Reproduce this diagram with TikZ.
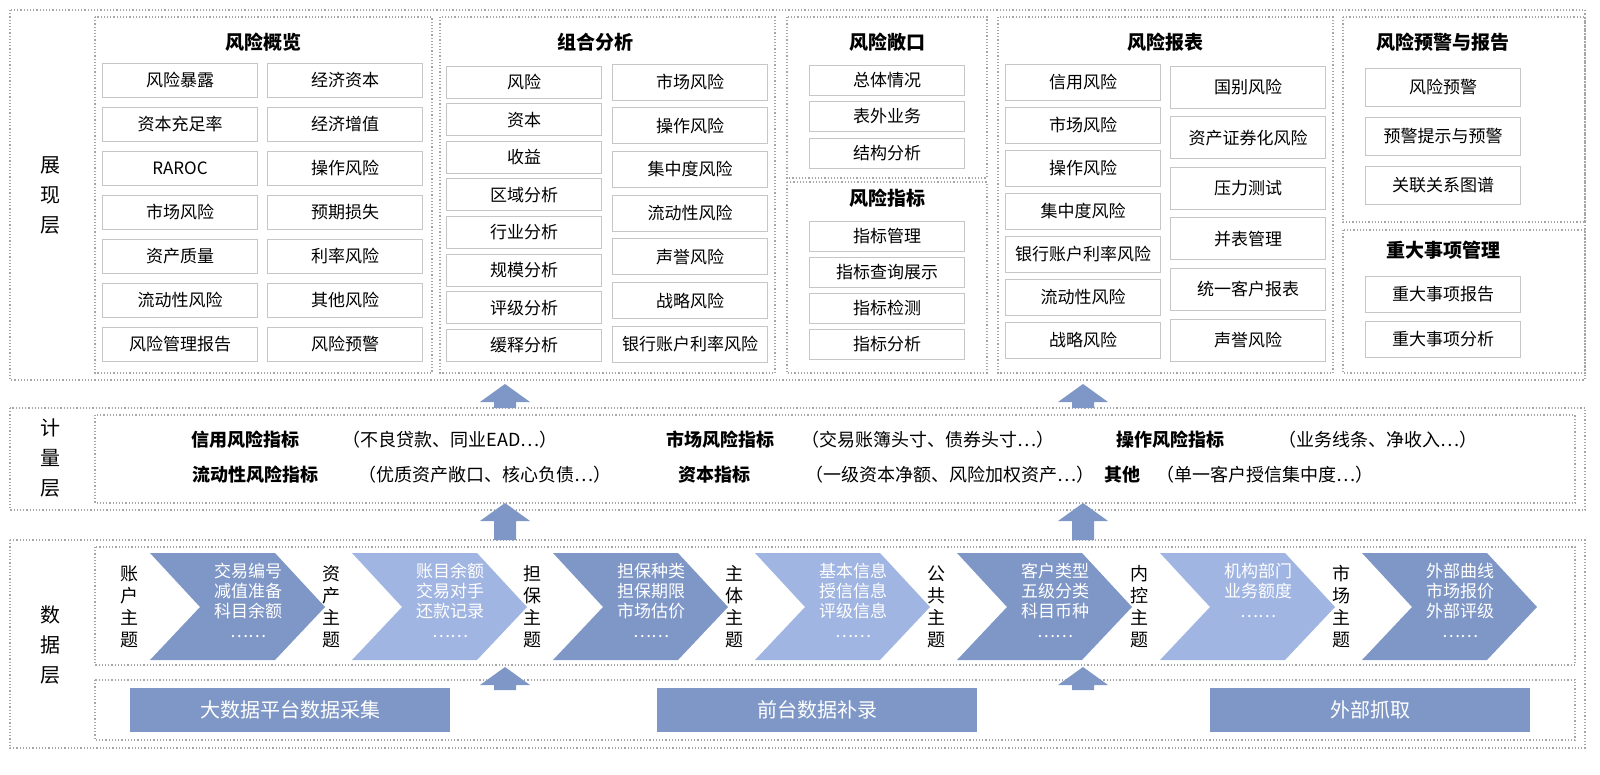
\documentclass[tikz,border=0pt]{standalone}
\usepackage{fontspec}
\setmainfont{Noto Sans CJK SC}
\definecolor{dk}{HTML}{7F97C6}
\definecolor{lt}{HTML}{A0B5E2}
\tikzset{
 panel/.style={draw=gray!70,densely dotted,line width=0.6pt},
 itm/.style={draw=gray!45,fill=white,minimum width=77.5pt,minimum height=#1,inner sep=0pt,font=\fontsize{8.5}{9}\selectfont},
 itm/.default=17pt,
 ttl/.style={font=\fontsize{9.5}{10}\selectfont\bfseries},
 lay/.style={font=\fontsize{10}{15}\selectfont,align=center},
 mt/.style={font=\fontsize{9}{10}\selectfont,anchor=center},
 mb/.style={font=\fontsize{9}{10}\selectfont\bfseries,anchor=center},
 chev/.style={font=\fontsize{8.5}{10}\selectfont,text=white,align=center},
 vlab/.style={font=\fontsize{9}{11}\selectfont,align=center},
 bar/.style={fill=dk,text=white,font=\fontsize{10}{11}\selectfont,minimum width=160pt,minimum height=22pt}
}
\newcommand{\uparr}[3]{% x, top y, bottom y
 \fill[dk] (#1-11,#3) -- (#1-11,#2+18) -- (#1-25,#2+18) -- (#1,#2) -- (#1+25,#2+18) -- (#1+11,#2+18) -- (#1+11,#3) -- cycle;}
\begin{document}
\begin{tikzpicture}[x=0.5pt,y=-0.5pt]
\useasboundingbox (0,0) rectangle (1600,775);
% layer frames
\draw[panel] (10,10) rectangle (1585,380);
\draw[panel] (10,408) rectangle (1585,510);
\draw[panel] (95,415) rectangle (1575,503);
\draw[panel] (10,540) rectangle (1585,748);
\draw[panel] (95,547) rectangle (1575,665);
\draw[panel] (95,680) rectangle (1575,740);
\node[lay] (l1) at (50,195) {展\\现\\层};
\node[lay] (l2) at (50,458) {计\\量\\层};
\node[lay] (l3) at (50,645) {数\\据\\层};
% panel 1
\draw[panel] (95,17) rectangle (432,373);
\node[ttl] (t1) at (263,42) {风险概览};
\foreach \a/\b [count=\i] in {风险暴露/经济资本,资本充足率/经济增值,RAROC/操作风险,市场风险/预期损失,资产质量/利率风险,流动性风险/其他风险,风险管理报告/风险预警}{
 \pgfmathsetmacro\yy{80+(\i-1)*44}
 \node[itm] (p1a\i) at (180,\yy) {\a};
 \node[itm] (p1b\i) at (345,\yy) {\b};}
% panel 2
\draw[panel] (440,17) rectangle (775,373);
\node[ttl] (t2) at (595,42) {组合分析};
\foreach \a [count=\i] in {风险,资本,收益,区域分析,行业分析,规模分析,评级分析,缓释分析}{
 \pgfmathsetmacro\yy{82+(\i-1)*37.6}
 \node[itm=16pt] (p2a\i) at (524,\yy) {\a};}
\foreach \a [count=\i] in {市场风险,操作风险,集中度风险,流动性风险,声誉风险,战略风险,银行账户利率风险}{
 \pgfmathsetmacro\yy{82+(\i-1)*43.7}
 \node[itm=18pt] (p2b\i) at (690,\yy) {\a};}
% panel 3
\draw[panel] (787,17) rectangle (987,178);
\node[ttl] (t3) at (887,42) {风险敞口};
\foreach \a [count=\i] in {总体情况,表外业务,结构分析}{
 \pgfmathsetmacro\yy{80+(\i-1)*36.5}
 \node[itm=15pt] (p3\i) at (887,\yy) {\a};}
\draw[panel] (787,182) rectangle (987,373);
\node[ttl] (t4) at (887,198) {风险指标};
\foreach \a [count=\i] in {指标管理,指标查询展示,指标检测,指标分析}{
 \pgfmathsetmacro\yy{236+(\i-1)*36}
 \node[itm=15pt] (p4\i) at (887,\yy) {\a};}
% panel 5
\draw[panel] (998,17) rectangle (1333,373);
\node[ttl] (t5) at (1165,42) {风险报表};
\foreach \a [count=\i] in {信用风险,市场风险,操作风险,集中度风险,银行账户利率风险,流动性风险,战略风险}{
 \pgfmathsetmacro\yy{82+(\i-1)*43}
 \node[itm=18pt] (p5a\i) at (1083,\yy) {\a};}
\foreach \a [count=\i] in {国别风险,资产证券化风险,压力测试,并表管理,统一客户报表,声誉风险}{
 \pgfmathsetmacro\yy{87+(\i-1)*50.6}
 \node[itm=21pt] (p5b\i) at (1248,\yy) {\a};}
% panel 6
\draw[panel] (1343,17) rectangle (1585,222);
\node[ttl] (t6) at (1443,42) {风险预警与报告};
\foreach \a [count=\i] in {风险预警,预警提示与预警,关联关系图谱}{
 \pgfmathsetmacro\yy{87+(\i-1)*49}
 \node[itm=19pt] (p6\i) at (1443,\yy) {\a};}
\draw[panel] (1343,230) rectangle (1585,373);
\node[ttl] (t7) at (1443,250) {重大事项管理};
\foreach \a [count=\i] in {重大事项报告,重大事项分析}{
 \pgfmathsetmacro\yy{294+(\i-1)*45}
 \node[itm=18pt] (p7\i) at (1443,\yy) {\a};}
% arrows
\foreach \x in {505,1083}{
 \uparr{\x}{384}{408}
 \uparr{\x}{503}{540}
 \uparr{\x}{667}{690}}
% measure layer
\node[mb] (m1) at (245,440) {信用风险指标};
\node[mt] (m2) at (450,440) {（不良贷款、同业EAD…）};
\node[mb] (m3) at (720,440) {市场风险指标};
\node[mt] (m4) at (928,440) {（交易账簿头寸、债券头寸…）};
\node[mb] (m5) at (1170,440) {操作风险指标};
\node[mt] (m6) at (1378,440) {（业务线条、净收入…）};
\node[mb] (m7) at (255,475) {流动性风险指标};
\node[mt] (m8) at (485,475) {（优质资产敞口、核心负债…）};
\node[mb] (m9) at (714,475) {资本指标};
\node[mt] (m10) at (950,475) {（一级资本净额、风险加权资产…）};
\node[mb] (m11) at (1122,475) {其他};
\node[mt] (m12) at (1265,475) {（单一客户授信集中度…）};
% chevrons
\foreach \L/\c/\t/\v [count=\i] in {
 150/dk/{交易编号\\减值准备\\科目余额\\……}/{账\\户\\主\\题},
 352/lt/{账目余额\\交易对手\\还款记录\\……}/{资\\产\\主\\题},
 553/dk/{担保种类\\担保期限\\市场估价\\……}/{担\\保\\主\\题},
 755/lt/{基本信息\\授信信息\\评级信息\\……}/{主\\体\\主\\题},
 957/dk/{客户类型\\五级分类\\科目币种\\……}/{公\\共\\主\\题},
 1160/lt/{机构部门\\业务额度\\……\\\phantom{x}}/{内\\控\\主\\题},
 1362/dk/{外部曲线\\市场报价\\外部评级\\……}/{市\\场\\主\\题}}{
 \fill[\c] (\L,553) -- (\L+125,553) -- (\L+175,607) -- (\L+125,660) -- (\L,660) -- (\L+50,607) -- cycle;
 \node[chev] (c\i) at (\L+98,600) {\t};
 \pgfmathsetmacro\vx{\L-21}
 \node[vlab] (v\i) at (\vx,607) {\v};}
% bars
\node[bar] (b1) at (290,710) {大数据平台数据采集};
\node[bar] (b2) at (817,710) {前台数据补录};
\node[bar] (b3) at (1370,710) {外部抓取};
\end{tikzpicture}
\end{document}
